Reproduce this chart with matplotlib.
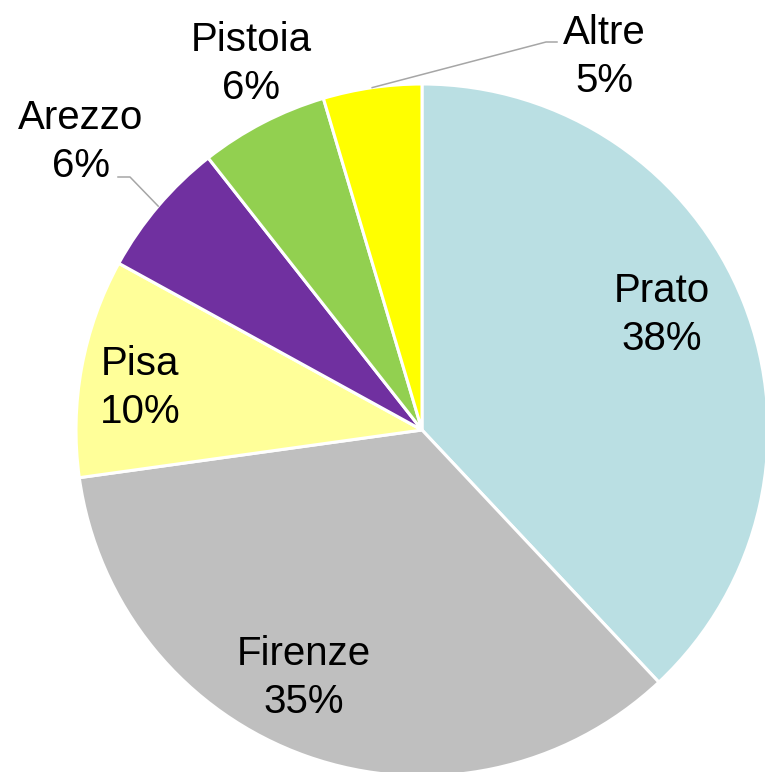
import numpy as np
import matplotlib
matplotlib.use("Agg")
import matplotlib.pyplot as plt

# dati: quota per provincia (%)
provinces = ["Prato", "Firenze", "Pisa", "Arezzo", "Pistoia", "Altre"]
shares = [38.0, 34.8, 10.2, 6.4, 6.0, 4.6]
colors = ["#BADFE3", "#BFBFBF", "#FFFF99", "#7030A0", "#92D050", "#FFFF00"]

W, H = 765, 772
cx, cy, R = 422, 430, 346   # centro e raggio della torta in pixel

def px(x, y):
    # pixel immagine -> coordinate dati (raggio torta = 1)
    return (x - cx) / R, (cy - y) / R

fig = plt.figure(figsize=(W / 100, H / 100), dpi=100)
ax = fig.add_axes([0, 0, 1, 1])
wedges, _ = ax.pie(shares, colors=colors, startangle=90, counterclock=False,
                   radius=1, wedgeprops=dict(edgecolor="white", linewidth=2.2))
x0, y0 = px(0, 0)
x1, y1 = px(W, H)
ax.set_xlim(x0, x1)
ax.set_ylim(y1, y0)
ax.set_aspect("equal")
ax.axis("off")

# posizione etichette (centro x, baseline ultima riga) in pixel
label_pos = [(662, 350), (304, 713), (140, 423), (81, 177), (251, 99), (604, 92)]
# linee guida: gomito e fine, in pixel (None = nessuna linea)
leaders = [None, None, None, ((130, 177), (118, 177)), None, ((546, 42), (557, 42))]

for w, name, val, (lx, ly), ld in zip(wedges, provinces, shares, label_pos, leaders):
    tx, ty = px(lx, ly)
    ax.text(tx, ty, "%s\n%d%%" % (name, round(val)), ha="center", va="baseline",
            fontsize=29, family="Liberation Sans", linespacing=1.33, color="black")
    if ld is not None:
        mid = np.deg2rad((w.theta1 + w.theta2) / 2)
        xs = [np.cos(mid), px(*ld[0])[0], px(*ld[1])[0]]
        ys = [np.sin(mid), px(*ld[0])[1], px(*ld[1])[1]]
        ax.plot(xs, ys, color="#A6A6A6", linewidth=1.1)

fig.savefig("out.png", dpi=100)
